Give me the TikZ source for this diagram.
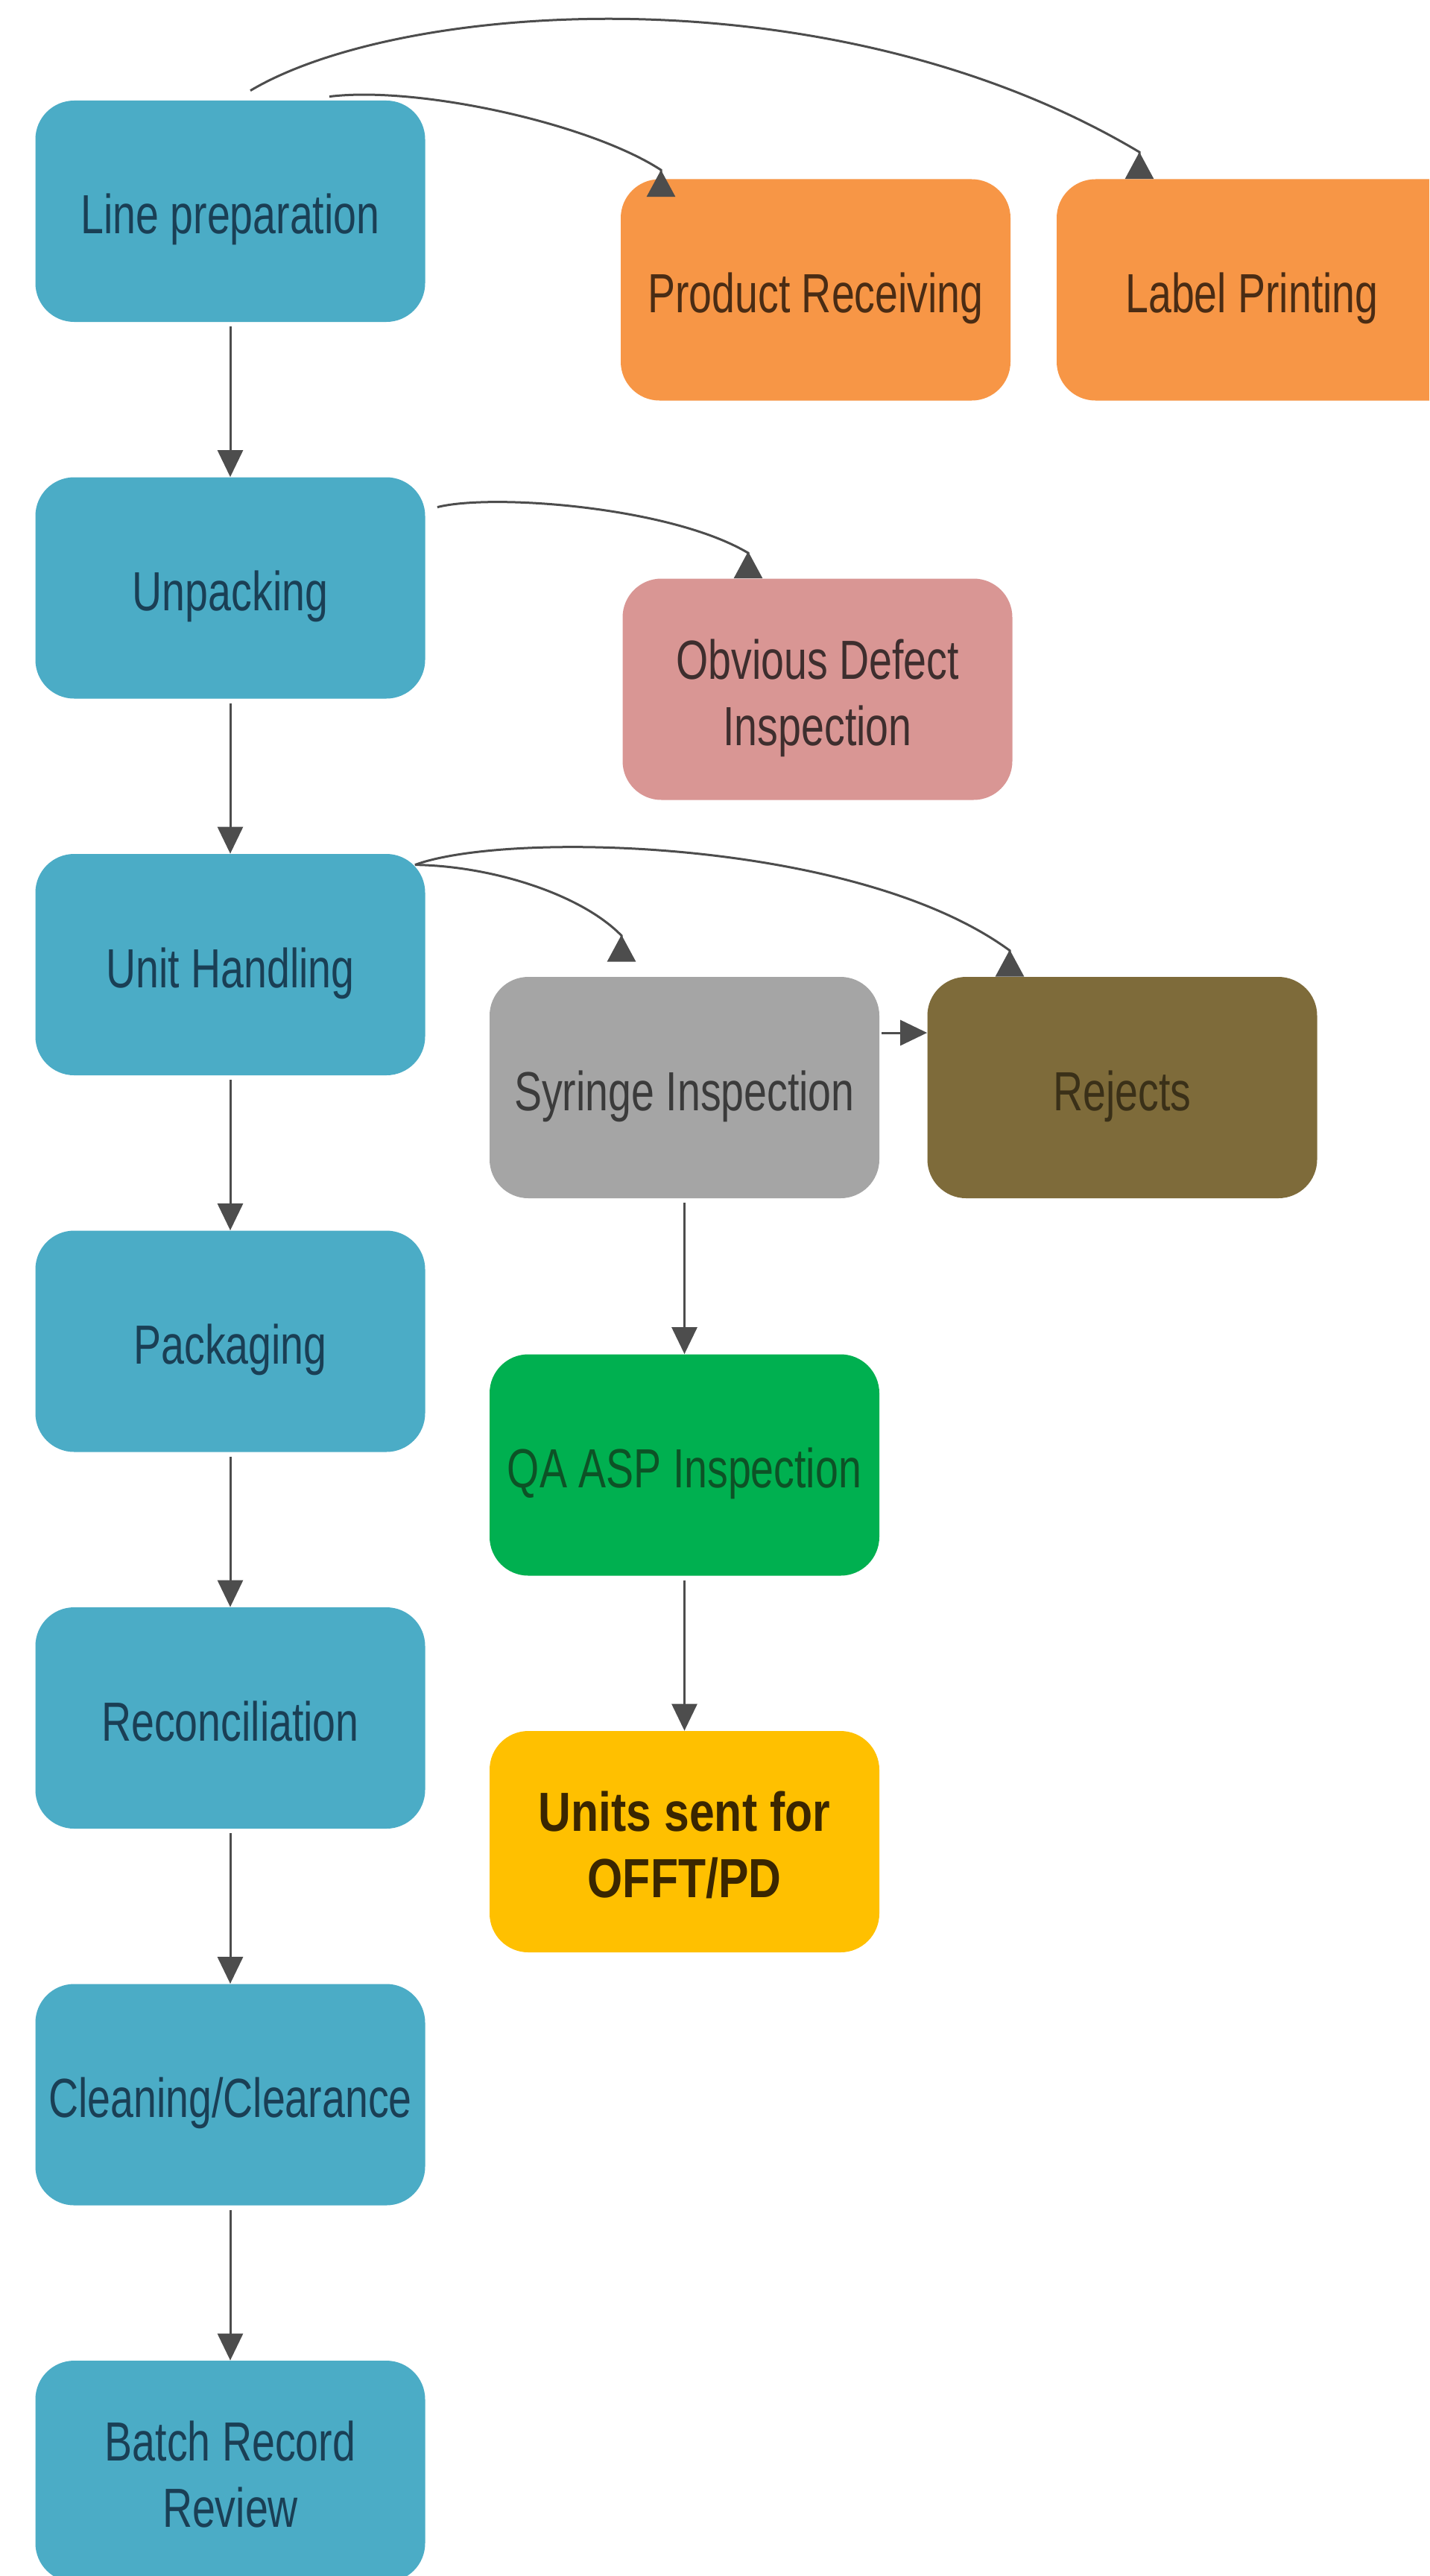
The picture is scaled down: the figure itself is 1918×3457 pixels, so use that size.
\documentclass[tikz,border=0pt]{standalone}
\usepackage{fontspec}
\setmainfont{Liberation Sans}[FakeStretch=0.75]
\newfontfamily\boldnarrow{Liberation Sans}[FakeStretch=0.82]
\usetikzlibrary{arrows.meta}
\definecolor{cblue}{HTML}{4BACC6}
\definecolor{corange}{HTML}{F79646}
\definecolor{cpink}{HTML}{D99694}
\definecolor{cgray}{HTML}{A5A5A5}
\definecolor{colive}{HTML}{7E6B3A}
\definecolor{cgreen}{HTML}{00B050}
\definecolor{cyellow}{HTML}{FFC000}
\definecolor{tblue}{HTML}{1A3F55}
\definecolor{torange}{HTML}{4A2C14}
\definecolor{tpink}{HTML}{3E2E2E}
\definecolor{tgray}{HTML}{3B3B3B}
\definecolor{tolive}{HTML}{3A3018}
\definecolor{tgreen}{HTML}{0D5226}
\definecolor{tyellow}{HTML}{3A2600}
\definecolor{cline}{HTML}{4D4D4D}
\begin{document}
\begin{tikzpicture}[x=0.5pt,y=-0.5pt,
  box/.style={rectangle, rounded corners=26pt, minimum width=261.5pt, minimum height=148.5pt,
    inner sep=0pt, text height=32pt, text depth=1.5pt,
    font=\fontsize{37pt}{44.5pt}\selectfont},
  twoline/.style={text height=76.5pt, text depth=1.5pt},
  bluebox/.style={box, fill=cblue, text=tblue},
  flow/.style={draw=cline, line width=1.5pt, -{Triangle[length=18pt,width=17pt]}},
  bent/.style={draw=cline, line width=1.5pt, -{Triangle[reversed,length=18pt,width=19pt]}}]
\useasboundingbox (0,0) rectangle (1918,3457);
\clip (0,0) rectangle (1918,3457);
\fill[white] (0,0) rectangle (1918,3457);

% left column
\node[bluebox] (lp)  at (309,283.5)  {Line preparation};
\node[bluebox] (unp) at (309,789)    {Unpacking};
\node[bluebox] (uh)  at (309,1294.5) {Unit Handling};
\node[bluebox] (pkg) at (309,1800)   {Packaging};
\node[bluebox] (rec) at (309,2305.5) {Reconciliation};
\node[bluebox] (cln) at (309,2811)   {Cleaning/Clearance};
\node[bluebox, twoline] (brr) at (309,3316.5) {\begin{tabular}[b]{@{}c@{}}Batch Record\\Review\end{tabular}};

% other boxes
\node[box, fill=corange, text=torange] (pr)  at (1094.5,389) {Product Receiving};
\node[box, fill=corange, text=torange, minimum width=300pt] (lbl) at (1718,389) {Label Printing\hspace*{38pt}};
\node[box, fill=cpink, text=tpink, twoline] (obv) at (1097,925) {\begin{tabular}[b]{@{}c@{}}Obvious Defect\\Inspection\end{tabular}};
\node[box, fill=cgray, text=tgray]     (syr) at (918.5,1459.5) {Syringe Inspection};
\node[box, fill=colive, text=tolive]   (rej) at (1506,1459.5)  {Rejects};
\node[box, fill=cgreen, text=tgreen]   (qa)  at (918.5,1966)   {QA ASP Inspection};
\node[box, fill=cyellow, text=tyellow, twoline, font=\boldnarrow\bfseries\fontsize{37pt}{44.5pt}\selectfont] (uns) at (918.5,2471.5) {\begin{tabular}[b]{@{}c@{}}Units sent for~\\OFFT/PD\end{tabular}};

% vertical flow
\draw[flow] ([yshift=-3pt]lp.south)  -- (unp.north);
\draw[flow] ([yshift=-3pt]unp.south) -- (uh.north);
\draw[flow] ([yshift=-3pt]uh.south)  -- (pkg.north);
\draw[flow] ([yshift=-3pt]pkg.south) -- (rec.north);
\draw[flow] ([yshift=-3pt]rec.south) -- (cln.north);
\draw[flow] ([yshift=-3pt]cln.south) -- (brr.north);
\draw[flow] ([yshift=-3pt]syr.south) -- (qa.north);
\draw[flow] ([yshift=-3pt]qa.south)  -- (uns.north);
\draw[flow] ([xshift=1.5pt,yshift=36.75pt]syr.east) -- ([yshift=36.75pt]rej.west);

% curved connectors
\draw[bent] ([xshift=13.5pt,yshift=6.5pt]lp.north) .. controls (540,0) and (1120,-40) ..
  ([xshift=-94.5pt,yshift=18pt]lbl.north) -- ([xshift=-94.5pt]lbl.north);
\draw[bent] ([xshift=66.5pt,yshift=2.5pt]lp.north) .. controls (560,115) and (790,165) ..
  ([xshift=-103.75pt,yshift=6pt]pr.north) -- ([xshift=-103.75pt,yshift=-12pt]pr.north);
\draw[bent] ([xshift=8pt,yshift=-20.25pt]unp.north east) .. controls (660,662) and (900,680) ..
  ([xshift=-46.5pt,yshift=17pt]obv.north) -- ([xshift=-46.5pt]obv.north);
\draw[bent] ([xshift=-7pt,yshift=-7.5pt]uh.north east) .. controls (660,1162) and (780,1200) ..
  ([xshift=-42.25pt,yshift=27.5pt]syr.north) -- ([xshift=-42.25pt,yshift=10pt]syr.north);
\draw[bent] ([xshift=-7pt,yshift=-7.5pt]uh.north east) .. controls (680,1115) and (1150,1125) ..
  ([xshift=-75.5pt,yshift=17.5pt]rej.north) -- ([xshift=-75.5pt]rej.north);
\end{tikzpicture}
\end{document}
